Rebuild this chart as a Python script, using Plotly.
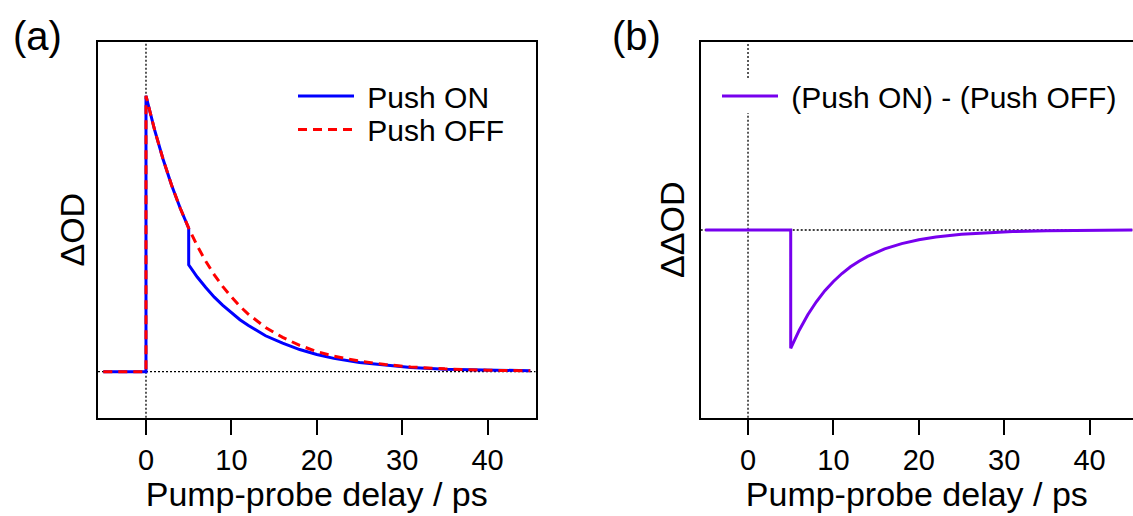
import plotly.graph_objects as go

# ---- data ----
t_on = [-5, 0, 0, 1, 2, 3, 4, 5, 5, 6, 7, 8, 9, 10, 11, 12, 13, 14, 16, 18, 20, 22, 25, 28, 31, 35, 40, 45]
push_on = [0, 0, 1.0, 0.877, 0.770, 0.676, 0.593, 0.520, 0.387, 0.343, 0.305, 0.270, 0.240, 0.213,
           0.188, 0.167, 0.148, 0.130, 0.103, 0.080, 0.062, 0.048, 0.033, 0.023, 0.015, 0.009, 0.005, 0.003]

t_off = [-5, 0, 0, 1, 2, 3, 4, 5, 6, 7, 8, 9, 10, 11, 12, 13, 14, 16, 18, 20, 22, 25, 28, 31, 35, 40, 45]
push_off = [0, 0, 1.0, 0.877, 0.770, 0.676, 0.593, 0.520, 0.456, 0.400, 0.351, 0.308, 0.271, 0.237,
            0.208, 0.183, 0.160, 0.124, 0.095, 0.073, 0.056, 0.038, 0.026, 0.017, 0.010, 0.005, 0.003]

t_diff = [-5, 5, 5, 6, 7, 8, 9, 10, 11, 12, 13, 14, 16, 18, 20, 22, 25, 28, 31, 35, 40, 45]
diff = [0, 0, -1.0, -0.847, -0.717, -0.607, -0.513, -0.435, -0.368, -0.311, -0.264, -0.223,
        -0.160, -0.115, -0.082, -0.059, -0.036, -0.022, -0.013, -0.007, -0.003, -0.001]

x_ticks = [0, 10, 20, 30, 40]

FONT = "Liberation Sans, Arial, sans-serif"
W, H = 1133, 516

fig = go.Figure()
fig.add_trace(go.Scatter(x=t_on, y=push_on, mode="lines", name=" Push ON",
                         line=dict(color="#0000FF", width=3), xaxis="x", yaxis="y", legend="legend"))
fig.add_trace(go.Scatter(x=t_off, y=push_off, mode="lines", name=" Push OFF",
                         line=dict(color="#FF0000", width=3, dash="9px,6px"), xaxis="x", yaxis="y",
                         legend="legend3"))
fig.add_trace(go.Scatter(x=t_diff, y=diff, mode="lines", name=" (Push ON) - (Push OFF)",
                         line=dict(color="#7700EE", width=3), xaxis="x2", yaxis="y2", legend="legend2"))

ydom = [(H - 417.7) / H, (H - 41.7) / H]

axis_common = dict(showgrid=False, zeroline=False, showline=True, linecolor="black", linewidth=2)

fig.update_layout(
    width=W, height=H,
    margin=dict(l=0, r=0, t=0, b=0),
    paper_bgcolor="white", plot_bgcolor="white",
    font=dict(family=FONT, color="black"),
    xaxis=dict(domain=[98 / W, 535.5 / W], range=[-5.62, 45.61], tickvals=x_ticks,
               ticks="outside", ticklen=15, tickwidth=2, tickcolor="black",
               tickfont=dict(size=29), mirror=True, anchor="y",
               title=dict(text="Pump-probe delay / ps", font=dict(size=34), standoff=2),
               **axis_common),
    yaxis=dict(domain=ydom, range=[-0.167, 1.196], showticklabels=False, ticks="",
               mirror=True, anchor="x",
               title=dict(text="ΔOD", font=dict(size=34), standoff=1),
               **axis_common),
    xaxis2=dict(domain=[700.7 / W, 1.0], range=[-5.54, 45.08], tickvals=x_ticks,
                ticks="outside", ticklen=15, tickwidth=2, tickcolor="black",
                tickfont=dict(size=29), mirror=True, anchor="y2",
                title=dict(text="Pump-probe delay / ps", font=dict(size=34), standoff=2),
                **axis_common),
    yaxis2=dict(domain=ydom, range=[-1.587, 1.592], showticklabels=False, ticks="",
                mirror=False, anchor="x2",
                title=dict(text="ΔΔOD", font=dict(size=34), standoff=4),
                **axis_common),
    legend=dict(x=293 / W, y=1 - 70 / H, xanchor="left", yanchor="top",
                bgcolor="rgba(0,0,0,0)", font=dict(size=30), itemwidth=56),
    legend3=dict(x=293 / W, y=1 - 103.5 / H, xanchor="left", yanchor="top",
                 bgcolor="rgba(0,0,0,0)", font=dict(size=30), itemwidth=56),
    legend2=dict(x=717 / W, y=1 - 70 / H, xanchor="left", yanchor="top",
                 bgcolor="rgba(0,0,0,0)", font=dict(size=30), itemwidth=56),
    showlegend=True,
)

dot = dict(color="black", width=1.3, dash="2px,2px")
gap_lo = (417.7 - 113) / 376.0
gap_hi = (417.7 - 78) / 376.0
shapes = [
    dict(type="line", xref="x", yref="y domain", x0=0, x1=0, y0=0, y1=1, line=dot, layer="below"),
    dict(type="line", xref="x domain", yref="y", x0=0, x1=1, y0=0, y1=0, line=dot, layer="below"),
    dict(type="line", xref="x2", yref="y2 domain", x0=0, x1=0, y0=0, y1=gap_lo, line=dot, layer="below"),
    dict(type="line", xref="x2", yref="y2 domain", x0=0, x1=0, y0=gap_hi, y1=1, line=dot, layer="below"),
    dict(type="line", xref="x2 domain", yref="y2", x0=0, x1=1, y0=0, y1=0, line=dot, layer="below"),
]
fig.update_layout(shapes=shapes)

fig.add_annotation(text="(a)", x=37 / W, y=1 - 36 / H, xref="paper", yref="paper",
                   showarrow=False, font=dict(size=40), xanchor="center", yanchor="middle")
fig.add_annotation(text="(b)", x=636 / W, y=1 - 36 / H, xref="paper", yref="paper",
                   showarrow=False, font=dict(size=40), xanchor="center", yanchor="middle")

fig.write_html("out.html")
